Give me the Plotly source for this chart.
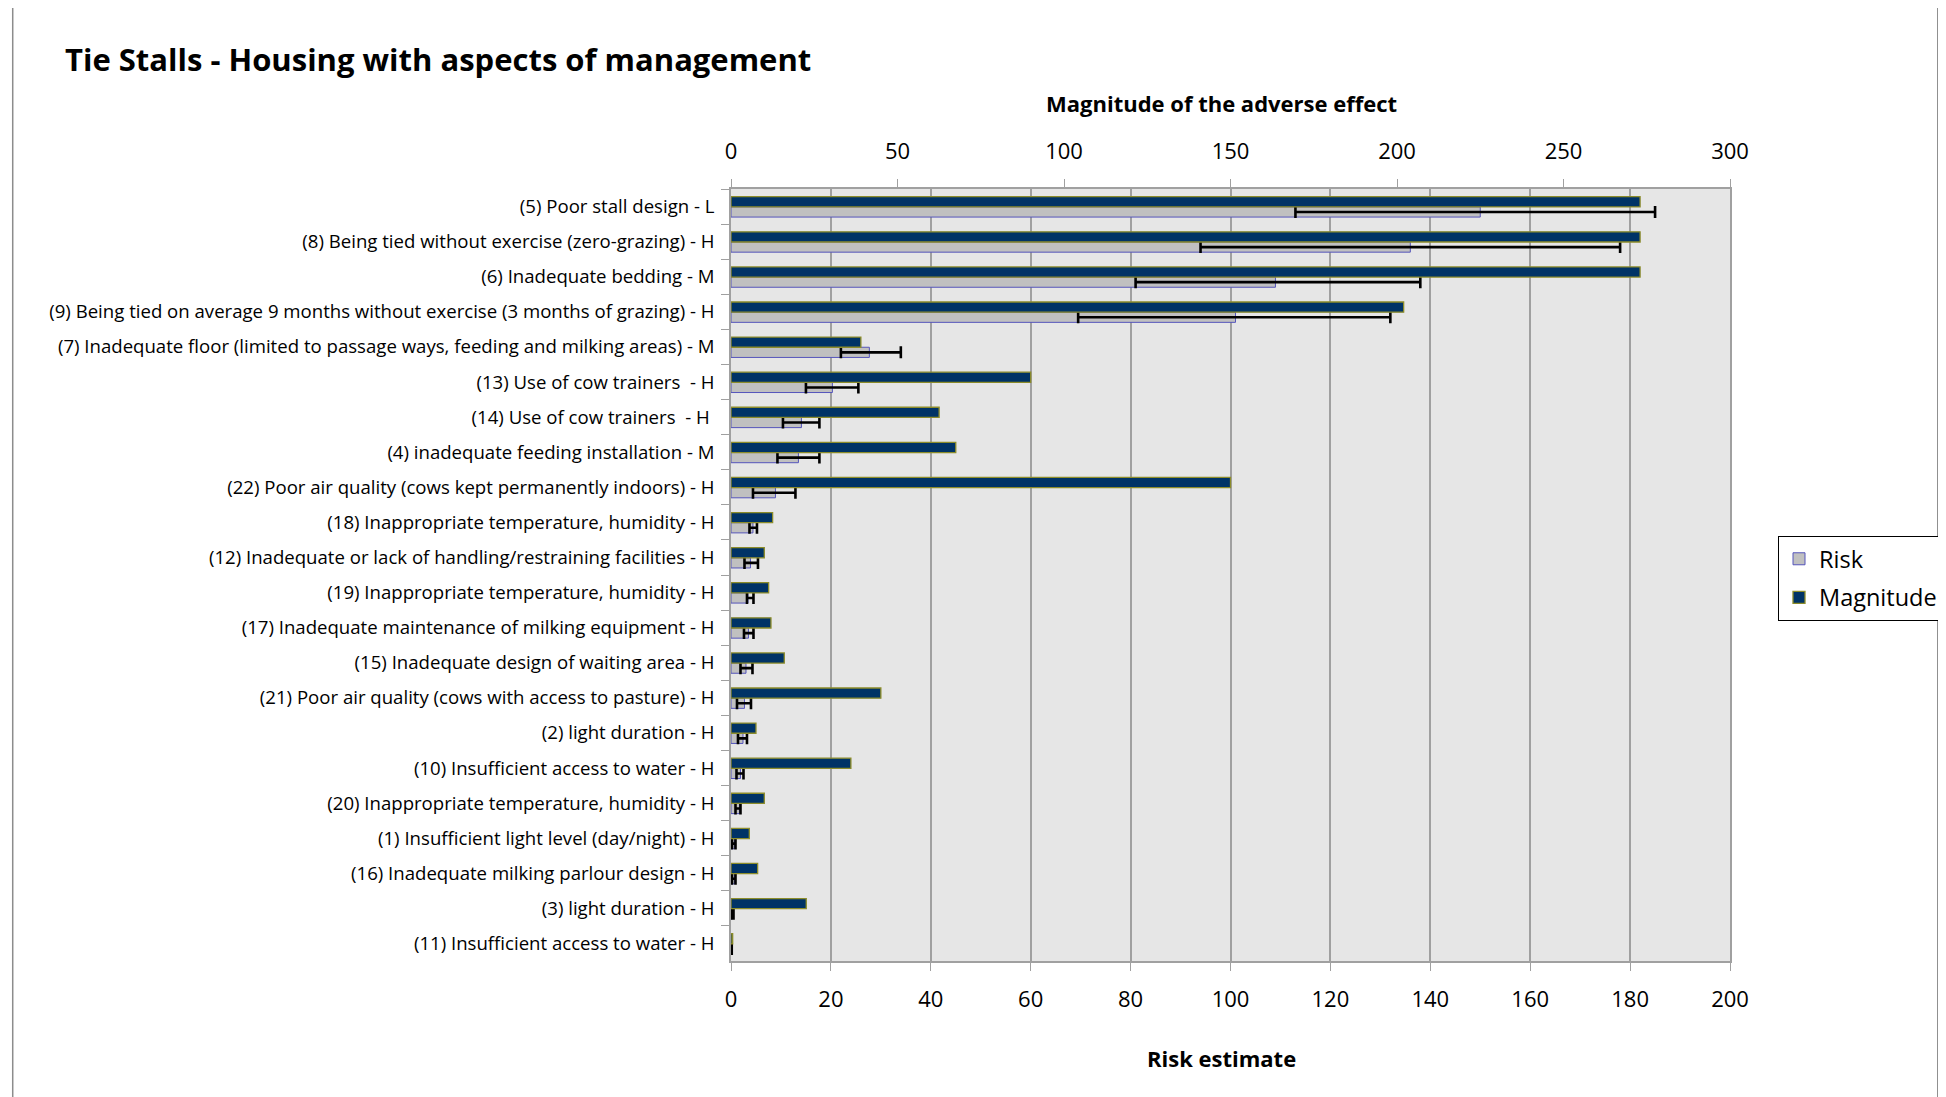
import plotly.graph_objects as go

# categories, top to bottom as in the chart
categories = [
    "(5) Poor stall design - L",
    "(8) Being tied without exercise (zero-grazing) - H",
    "(6) Inadequate bedding - M",
    "(9) Being tied on average 9 months without exercise (3 months of grazing) - H",
    "(7) Inadequate floor (limited to passage ways, feeding and milking areas) - M",
    "(13) Use of cow trainers  - H",
    "(14) Use of cow trainers  - H ",
    "(4) inadequate feeding installation - M",
    "(22) Poor air quality (cows kept permanently indoors) - H",
    "(18) Inappropriate temperature, humidity - H",
    "(12) Inadequate or lack of handling/restraining facilities - H",
    "(19) Inappropriate temperature, humidity - H",
    "(17) Inadequate maintenance of milking equipment - H",
    "(15) Inadequate design of waiting area - H",
    "(21) Poor air quality (cows with access to pasture) - H",
    "(2) light duration - H",
    "(10) Insufficient access to water - H",
    "(20) Inappropriate temperature, humidity - H",
    "(1) Insufficient light level (day/night) - H",
    "(16) Inadequate milking parlour design - H",
    "(3) light duration - H",
    "(11) Insufficient access to water - H",
]

magnitude = [273, 273, 273, 202, 39, 90, 62.5, 67.5, 150, 12.5, 10, 11.3, 12, 16,
             45, 7.5, 36, 10, 5.5, 8, 22.6, 0.5]
risk = [150, 136, 109, 101, 27.7, 20.3, 14.1, 13.5, 8.9, 4.4, 3.9, 3.4, 3.5, 3.0,
        2.7, 2.4, 1.9, 1.7, 0.7, 0.7, 0.3, 0.1]
risk_low = [113, 94, 81, 69.5, 22, 15, 10.4, 9.3, 4.4, 3.7, 2.7, 3.2, 2.6, 1.9,
            1.2, 1.4, 1.1, 0.9, 0.2, 0.2, 0.1, 0.05]
risk_high = [185, 178, 138, 132, 34, 25.5, 17.7, 17.7, 12.9, 5.2, 5.4, 4.5, 4.5, 4.3,
             4.0, 3.2, 2.5, 1.9, 0.9, 0.9, 0.5, 0.15]

err_plus = [h - r for h, r in zip(risk_high, risk)]
err_minus = [r - l for r, l in zip(risk, risk_low)]

FONT = "Open Sans"
PAGE_PAD = 8  # browser body margin

fig = go.Figure()

# risk bars (bottom axis) with error bars
fig.add_trace(go.Bar(
    y=categories, x=risk, orientation="h", name="Risk",
    xaxis="x", yaxis="y", legendgroup="risk",
    offset=0.01, width=0.29,
    marker=dict(color="#C0C0C0", line=dict(color="#5555BB", width=1)),
    error_x=dict(type="data", symmetric=False, array=err_plus, arrayminus=err_minus,
                 color="black", thickness=2.6, width=6),
))

# magnitude bars (top axis)
fig.add_trace(go.Bar(
    y=categories, x=magnitude, orientation="h", name="Magnitude",
    xaxis="x2", yaxis="y", legendgroup="mag",
    offset=-0.28, width=0.29,
    marker=dict(color="#003366", line=dict(color="#8C8C2A", width=1.3)),
))

axis_grey = "#A0A0A0"

fig.update_layout(
    width=1946, height=1097,
    margin=dict(l=731 - PAGE_PAD, r=1946 - 1731 + PAGE_PAD,
                t=189 - PAGE_PAD, b=1097 - 961 + PAGE_PAD),
    paper_bgcolor="white",
    plot_bgcolor="#E6E6E6",
    font=dict(family=FONT, color="black"),
    barmode="overlay",
    title=dict(text="<b>Tie Stalls - Housing with aspects of management</b>",
               x=(65 - PAGE_PAD) / 1946, xanchor="left",
               y=1 - (60 - PAGE_PAD) / 1097, yanchor="middle",
               font=dict(size=31, family=FONT)),
    xaxis=dict(range=[0, 200], dtick=20, showgrid=True, gridcolor=axis_grey, gridwidth=1.5,
               zeroline=False, showline=True, linecolor=axis_grey, linewidth=1.5,
               ticks="outside", ticklen=8, tickcolor=axis_grey,
               tickfont=dict(size=22), ticklabelstandoff=10),
    xaxis2=dict(range=[0, 300], dtick=50, overlaying="x", side="top", showgrid=False,
                zeroline=False, showline=True, linecolor=axis_grey, linewidth=1.5,
                ticks="outside", ticklen=8, tickcolor=axis_grey,
                tickfont=dict(size=22), ticklabelstandoff=11),
    yaxis=dict(autorange="reversed", type="category", tickson="boundaries",
               ticks="outside", ticklen=8, tickcolor=axis_grey,
               showline=True, linecolor=axis_grey, linewidth=1.5, mirror=True,
               showgrid=False, tickfont=dict(size=18.6), ticklabelstandoff=11),
    legend=dict(x=(1778 - 731) / 1000, y=(961 - 536) / 772, xanchor="left", yanchor="top",
                bordercolor="black", borderwidth=1, bgcolor="white",
                font=dict(size=23.5), traceorder="grouped", tracegroupgap=5),
    annotations=[
        dict(text="<b>Magnitude of the adverse effect</b>", xref="paper", yref="paper",
             x=0.491, y=(961 - 86) / 772, showarrow=False, font=dict(size=22)),
        dict(text="<b>Risk estimate</b>", xref="paper", yref="paper",
             x=0.491, y=(961 - 1075) / 772, showarrow=False, font=dict(size=22)),
    ],
    shapes=[
        dict(type="rect", xref="paper", yref="paper",
             x0=(12 - 731) / 1000, x1=(1939 - 731) / 1000,
             y0=(961 - 1110) / 772, y1=(961 - 6) / 772,
             line=dict(color="#8C8C8C", width=1.5), layer="below"),
    ],
)

fig.write_html("out.html")
